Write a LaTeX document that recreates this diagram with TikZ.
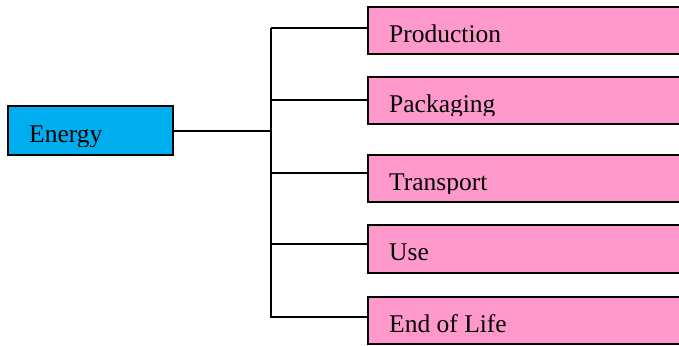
\documentclass[tikz,border=0pt]{standalone}
\usepackage{fontspec}
\setmainfont{Liberation Serif}
\definecolor{pinkbox}{RGB}{255,153,204}
\definecolor{bluebox}{RGB}{0,174,239}
\begin{document}
\begin{tikzpicture}[x=1pt,y=-1pt,
  box/.style={draw=black,line width=1.8pt,inner sep=0pt,outer sep=0pt},
  lbl/.style={anchor=base west,inner sep=0pt,font=\fontsize{25.5}{28}\selectfont},
  conn/.style={draw=black,line width=1.5pt}]
\useasboundingbox (0,0) rectangle (679,345);
% Energy box
\path[box,fill=bluebox] (8,106) rectangle (173,155);
\coordinate (eR) at (173,131);
\begin{scope}\clip (8,106) rectangle (173,146);
\node[lbl] (energy) at (29,142.5) {Energy};
\end{scope}
% trunk
\coordinate (tTop) at (271,28);
\coordinate (tBot) at (271,318);
\coordinate (tMid) at (271,131);
\draw[conn] (eR) -- (tMid);
\draw[conn] (tTop) -- (tBot);
% pink boxes
\foreach \name/\txt/\top/\bot/\by in {prod/Production/7/54/28, pack/Packaging/77/124/100, trans/Transport/155/202/173, use/Use/225/273/244, eol/End of Life/297/344/317}{
  \path[box,fill=pinkbox] (368,\top) rectangle (700,\bot);
  \coordinate (\name L) at (368,\by);
  \coordinate (\name T) at (271,\by);
  \draw[conn] (\name T) -- (\name L);
  \begin{scope}\clip (368,\top) rectangle (700,\top+38.5);
  \node[lbl] (\name) at (389,\top+35) {\txt};
  \end{scope}
}
\end{tikzpicture}
\end{document}
